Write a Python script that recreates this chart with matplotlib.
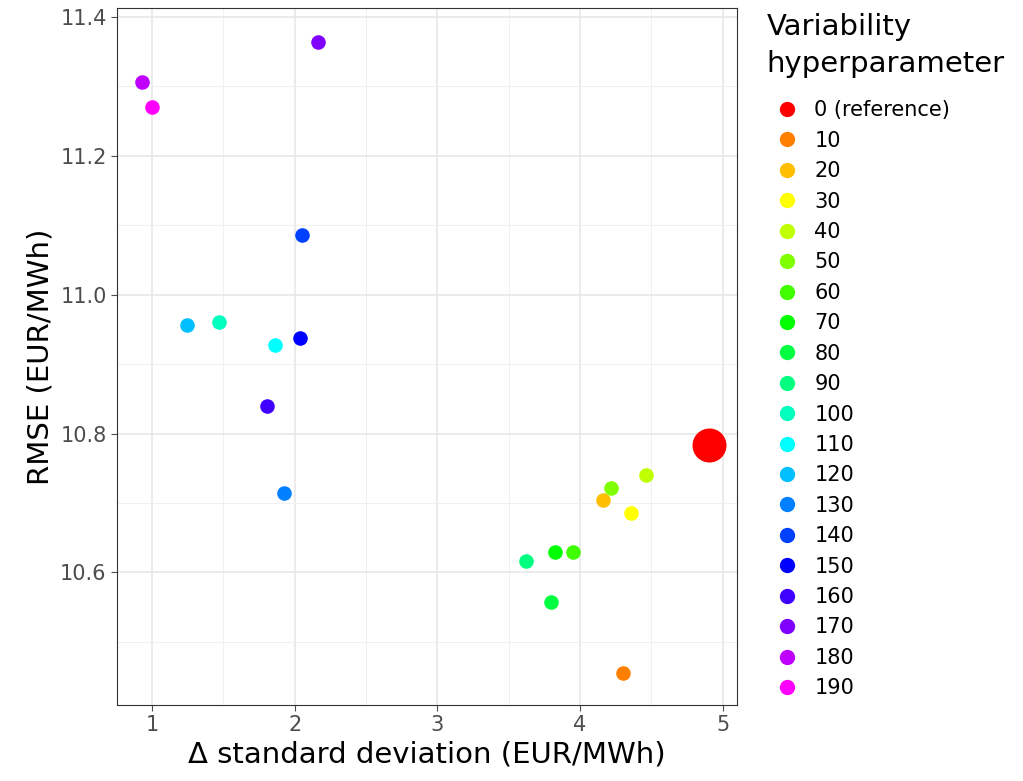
import matplotlib
matplotlib.use("Agg")
import matplotlib.pyplot as plt
import matplotlib.colors as mcolors
import numpy as np

labels = ["0 (reference)","10","20","30","40","50","60","70","80","90","100","110","120","130","140","150","160","170","180","190"]
delta_sd = [4.906,4.303,4.163,4.359,4.464,4.219,3.952,3.826,3.798,3.623,1.470,1.863,1.245,1.926,2.052,2.038,1.806,2.164,0.930,1.000]
rmse = [10.783,10.455,10.704,10.685,10.741,10.721,10.630,10.630,10.557,10.617,10.960,10.927,10.957,10.714,11.086,10.938,10.839,11.364,11.306,11.270]

n = len(labels)
hues = [0] + [15 + 15 * k for k in range(1, n)]
colors = [mcolors.hsv_to_rgb((h / 360, 1, 1)) for h in hues]

fig = plt.figure(figsize=(10.23, 7.81), dpi=100)
ax = fig.add_axes([117/1023, 1-705/781, 620/1023, 697/781])
for i in range(n):
    ax.scatter(delta_sd[i], rmse[i], s=(600 if i == 0 else 110), color=colors[i], zorder=3, linewidths=0)
ax.set_xlim(0.755, 5.10)
ax.set_ylim(10.409, 11.413)
ax.set_xticks([1,2,3,4,5])
ax.set_yticks([10.6,10.8,11.0,11.2,11.4])
ax.set_xticks([1.5,2.5,3.5,4.5], minor=True)
ax.set_yticks([10.5,10.7,10.9,11.1,11.3], minor=True)
ax.grid(True, which="major", color="#e5e5e5", lw=1.1)
ax.grid(True, which="minor", color="#f0f0f0", lw=0.7)
ax.set_axisbelow(True)
ax.tick_params(which="minor", length=0)
ax.tick_params(which="major", labelsize=15, colors="#4d4d4d", length=4)
for s in ax.spines.values():
    s.set_color("#333333")
ax.set_xlabel("Δ standard deviation (EUR/MWh)", fontsize=21)
ax.set_ylabel("RMSE (EUR/MWh)", fontsize=21)

handles = [plt.Line2D([], [], marker="o", ls="", color=colors[i], markersize=10) for i in range(n)]
leg = fig.legend(handles, labels, title="Variability\nhyperparameter", loc="upper left",
                 bbox_to_anchor=(758/1023, 1-5/781), frameon=False, fontsize=15,
                 title_fontsize=21, handletextpad=0.3, labelspacing=0.5, borderaxespad=0)
leg.get_title().set_linespacing(1.4)
leg._legend_box.align = "left"
leg._legend_box.sep = 16
fig.savefig("out.png", dpi=100, facecolor="white")
